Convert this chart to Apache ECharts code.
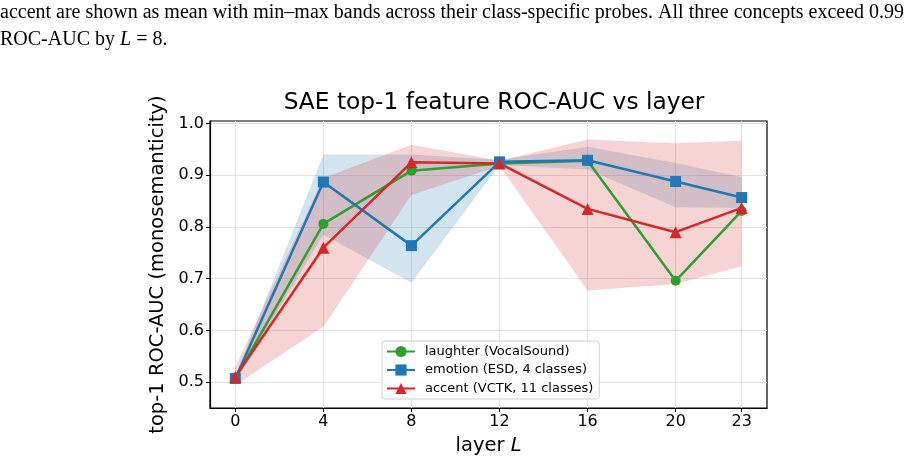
<!DOCTYPE html>
<html>
<head>
<meta charset="utf-8">
<script src="https://cdn.jsdelivr.net/npm/echarts@6/dist/echarts.min.js"></script>
<style>
html,body{margin:0;padding:0;background:#fff;}
#chart{width:920px;height:461px;}
</style>
</head>
<body>
<div id="chart"></div>
<script>
// ---- data ----
const layers = [0, 4, 8, 12, 16, 20, 23];
const xTicks = [0, 4, 8, 12, 16, 20, 23];
const yTicks = [0.5, 0.6, 0.7, 0.8, 0.9, 1.0];
const seriesNames = ['laughter (VocalSound)', 'emotion (ESD, 4 classes)', 'accent (VCTK, 11 classes)'];
const laughter = [0.507, 0.806, 0.909, 0.923, 0.928, 0.696, 0.831];
const emotion  = [0.507, 0.887, 0.764, 0.926, 0.929, 0.888, 0.857];
const accent   = [0.510, 0.760, 0.925, 0.923, 0.835, 0.790, 0.837];
const emotionMin = [0.502, 0.785, 0.692, 0.920, 0.911, 0.838, 0.837];
const emotionMax = [0.512, 0.940, 0.940, 0.930, 0.955, 0.924, 0.896];
const accentMin  = [0.494, 0.607, 0.862, 0.918, 0.677, 0.690, 0.724];
const accentMax  = [0.530, 0.895, 0.959, 0.928, 0.969, 0.962, 0.967];

const GREEN = '#2ca02c', BLUE = '#1f77b4', RED = '#d62728';
const FONT = 'DejaVu Sans';

function band(lo, hi, fill) {
  return {
    type: 'custom',
    silent: true,
    z: 1,
    encode: {x: 0, y: [1, 2]},
    data: layers.map((x, i) => [x, lo[i], hi[i]]),
    renderItem: function (params, api) {
      if (params.dataIndex !== 0) return null;
      const pts = [];
      for (let i = 0; i < layers.length; i++) pts.push(api.coord([layers[i], hi[i]]));
      for (let i = layers.length - 1; i >= 0; i--) pts.push(api.coord([layers[i], lo[i]]));
      return {type: 'polygon', shape: {points: pts}, style: {fill: fill, stroke: null}};
    }
  };
}
function line(name, vals, color, symbol, size) {
  return {
    name: name, type: 'line', z: 3,
    data: layers.map((x, i) => [x, vals[i]]),
    symbol: symbol, symbolSize: size, showSymbol: true,
    lineStyle: {color: color, width: 2.5},
    itemStyle: {color: color, borderColor: color, borderWidth: 0},
    emphasis: {disabled: true},
    animation: false
  };
}

const chart = echarts.init(document.getElementById('chart'), null, {renderer: 'canvas'});
chart.setOption({
  animation: false,
  backgroundColor: '#fff',
  graphic: [
    {type: 'text', left: 0, top: 3, style: {
      text: 'accent are shown as mean with min\u2013max bands across their class-specific probes. All three concepts exceed 0.99',
      font: '20px "Liberation Serif"', fill: '#000'}},
    {type: 'text', left: 0, top: 30, style: {
      text: 'ROC-AUC by {i|L} = 8.',
      font: '20px "Liberation Serif"', fill: '#000',
      rich: {i: {fontFamily: 'Liberation Serif', fontStyle: 'italic', fontSize: 20}}}}
  ],
  title: {
    text: 'SAE top-1 feature ROC-AUC vs layer',
    left: 489, top: 86, textAlign: 'center',
    textStyle: {fontFamily: FONT, fontSize: 23.3, fontWeight: 'normal', color: '#000'}
  },
  grid: {left: 210, top: 121, width: 557, height: 288, show: true, borderColor: '#000', borderWidth: 1.2, backgroundColor: 'transparent'},
  legend: {
    data: seriesNames,
    orient: 'vertical', left: 382, top: 341,
    backgroundColor: 'rgba(255,255,255,0.85)', borderColor: '#d0d0d0', borderWidth: 1, borderRadius: 3,
    padding: [4, 6, 4, 4], itemGap: 5.5, itemWidth: 28, itemHeight: 14,
    textStyle: {fontFamily: FONT, fontSize: 13, color: '#000', padding: [0, 0, 0, 5]}
  },
  xAxis: {
    type: 'value', min: -1.15, max: 24.15,
    name: 'layer {i|L}', nameLocation: 'middle', nameGap: 28,
    nameTextStyle: {fontFamily: FONT, fontSize: 19.5, color: '#000', rich: {i: {fontFamily: FONT, fontStyle: 'italic', fontSize: 19.5}}},
    axisLine: {show: true, onZero: false, lineStyle: {color: '#000', width: 1.2}},
    axisTick: {show: true, length: 4, lineStyle: {color: '#000', width: 1}, customValues: xTicks},
    axisLabel: {customValues: xTicks, fontFamily: FONT, fontSize: 16, color: '#000', margin: 6},
    splitLine: {show: true, lineStyle: {color: '#e3e3e3', width: 1}}
  },
  yAxis: {
    type: 'value', min: 0.45, max: 1.005,
    name: 'top-1 ROC-AUC (monosemanticity)', nameLocation: 'middle', nameGap: 31,
    nameTextStyle: {fontFamily: FONT, fontSize: 19.5, color: '#000'},
    axisLine: {show: true, onZero: false, lineStyle: {color: '#000', width: 1.2}},
    axisTick: {show: true, length: 4, lineStyle: {color: '#000', width: 1}, customValues: yTicks},
    axisLabel: {customValues: yTicks, fontFamily: FONT, fontSize: 16, color: '#000', margin: 6, formatter: v => v.toFixed(1)},
    splitLine: {show: true, lineStyle: {color: '#e3e3e3', width: 1}}
  },
  series: [
    band(emotionMin, emotionMax, 'rgba(31,119,180,0.2)'),
    band(accentMin, accentMax, 'rgba(214,39,40,0.2)'),
    line(seriesNames[0], laughter, GREEN, 'circle', 10),
    line(seriesNames[1], emotion, BLUE, 'rect', 11),
    line(seriesNames[2], accent, RED, 'triangle', 12)
  ]
});
</script>
</body>
</html>
